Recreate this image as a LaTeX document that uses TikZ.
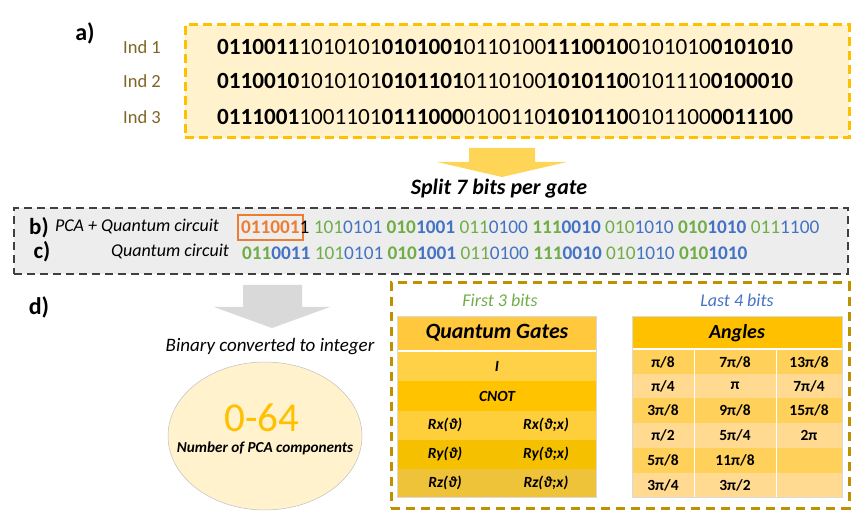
\documentclass[tikz,border=0pt]{standalone}
\usepackage{fontspec}
\setmainfont{Carlito}
\usetikzlibrary{shapes.geometric}
\definecolor{cyel}{HTML}{FFC000}
\definecolor{cfill}{HTML}{FFF2CC}
\definecolor{cind}{HTML}{7F6526}
\definecolor{cgreen}{HTML}{70AD47}
\definecolor{cblue}{HTML}{4472C4}
\definecolor{corange}{HTML}{ED7D31}
\definecolor{cgrayfill}{HTML}{EDEDED}
\definecolor{cdash}{HTML}{404040}
\definecolor{cgold}{HTML}{BF9000}
\definecolor{carrowy}{HTML}{FFD557}
\definecolor{carrowg}{HTML}{D9D9D9}
\definecolor{gh}{HTML}{FFC83D}
\definecolor{g1}{HTML}{FFD147}
\definecolor{g2}{HTML}{FFC300}
\definecolor{g3}{HTML}{FFCE3B}
\definecolor{g4}{HTML}{F5C000}
\definecolor{g5}{HTML}{EEC239}
\definecolor{ah}{HTML}{FFC000}
\definecolor{aodd}{HTML}{FFD05A}
\definecolor{aeven}{HTML}{FFDA90}
\newcommand{\fsz}[1]{\fontsize{#1}{#1}\selectfont}
\newcommand{\gbits}[2]{\textcolor{cgreen}{#1}\textcolor{cblue}{#2}}
\begin{document}
\begin{tikzpicture}[x=1pt,y=-1pt,
  every node/.style={inner sep=0pt,outer sep=0pt},
  lbl/.style={font=\fsz{24}\bfseries},
  indlbl/.style={font=\fsz{18.5},text=cind},
  bitsa/.style={font=\fsz{23.2},anchor=west},
  bitsb/.style={font=\fsz{19.3},anchor=west},
  ital/.style={font=\fsz{18}\itshape},
  cellg/.style={font=\fsz{15.5}\bfseries\itshape},
  cella/.style={font=\fsz{15.5}\bfseries},
]
\useasboundingbox (0,0) rectangle (852,513);

% ---- a) ----
\node[lbl] (la) at (85,33) {a)};
\node[draw=cyel,fill=cfill,line width=3pt,dash pattern=on 9pt off 5pt,
  minimum width=664pt,minimum height=113pt,anchor=north west] (boxa) at (185,25) {};
\node[indlbl] (i1) at (142,47) {Ind 1};
\node[indlbl] (i2) at (142,81) {Ind 2};
\node[indlbl] (i3) at (142,117) {Ind 3};
\node[bitsa] (r1) at (217,47) {\textbf{0110011}1010101\textbf{0101001}0110100\textbf{1110010}0101010\textbf{0101010}};
\node[bitsa] (r2) at (217,81) {\textbf{0110010}1010101\textbf{0101101}0110100\textbf{1010110}0101110\textbf{0100010}};
\node[bitsa] (r3) at (217,117) {\textbf{0111001}1001101\textbf{0111000}0100110\textbf{1010110}0101100\textbf{0011100}};

% yellow arrow
\fill[carrowy] (469,148) -- (535,148) -- (535,162) -- (567,162) -- (502,177) -- (437,162) -- (469,162) -- cycle;
\node[font=\fsz{22}\bfseries\itshape] (split) at (499,189) {Split 7 bits per gate};

% ---- b) c) ----
\node[draw=cdash,fill=cgrayfill,line width=2.5pt,dash pattern=on 8pt off 5pt,
  minimum width=834pt,minimum height=66pt,anchor=north west] (boxb) at (14,208) {};
\node[font=\fsz{23}\bfseries] (lb) at (39,228) {b)};
\node[ital,anchor=west] (tb) at (55,227) {PCA + Quantum circuit};
\node[font=\fsz{23}\bfseries] (lc) at (42,252) {c)};
\node[ital,anchor=east] (tc) at (229,252) {Quantum circuit};

\node[bitsb,draw=corange,line width=2pt,text=corange,inner xsep=3pt,inner ysep=3.5pt,
  minimum height=25pt,anchor=west] (b0) at (238,227.5) {\textbf{011001}};
\node[bitsb] (b1) at ([xshift=-3pt]b0.east) {1 \gbits{101}{0101} \textbf{\gbits{010}{1001}} \gbits{011}{0100} \textbf{\gbits{111}{0010}} \gbits{010}{1010} \textbf{\gbits{010}{1010}} \gbits{011}{1100}};
\node[bitsb] (c1) at (242,253) {\textbf{\gbits{011}{0011}} \gbits{101}{0101} \textbf{\gbits{010}{1001}} \gbits{011}{0100} \textbf{\gbits{111}{0010}} \gbits{010}{1010} \textbf{\gbits{010}{1010}}};

% ---- d) ----
\node[lbl] (ld) at (39,307) {d)};
\fill[carrowg] (243,285) -- (302,285) -- (302,307) -- (330,307) -- (272,328) -- (214,307) -- (243,307) -- cycle;
\node[font=\fsz{19}\itshape] (bin) at (270,347) {Binary converted to integer};
\node[ellipse,draw=black!25,line width=0.5pt,fill=cfill,minimum width=194pt,minimum height=148pt] (ell) at (265,436) {};
\node[font=\fsz{41},text=cyel] (num) at (262,418) {0-64};
\node[font=\fsz{15.2}\bfseries\itshape] (npca) at (265,448) {Number of PCA components};

\node[draw=cgold,line width=3pt,dash pattern=on 9pt off 6pt,
  minimum width=458pt,minimum height=225pt,anchor=north west] (boxd) at (391,283) {};

% gates table
\node[font=\fsz{18}\itshape,text=cgreen] (first) at (500,300) {First 3 bits};
\fill[gh] (397,316) rectangle (596,350);
\fill[g1] (397,352) rectangle (596,381);
\fill[g2] (397,381) rectangle (596,411);
\fill[g3] (397,411) rectangle (596,440);
\fill[g4] (397,440) rectangle (596,469);
\fill[g5] (397,469) rectangle (596,497);
\draw[black!15,line width=0.5pt] (397,316) rectangle (596,497);
\node[font=\fsz{21.8}\bfseries\itshape] (qg) at (497,333) {Quantum Gates};
\node[cellg] (gI) at (497,366) {I};
\node[cellg] (gC) at (497,396) {CNOT};
\node[cellg] (gx1) at (445,425) {Rx(ϑ)};
\node[cellg] (gx2) at (546,425) {Rx(ϑ;x)};
\node[cellg] (gy1) at (445,454) {Ry(ϑ)};
\node[cellg] (gy2) at (546,454) {Ry(ϑ;x)};
\node[cellg] (gz1) at (445,483) {Rz(ϑ)};
\node[cellg] (gz2) at (546,483) {Rz(ϑ;x)};

% angles table
\node[font=\fsz{18}\itshape,text=cblue] (last) at (737,300) {Last 4 bits};
\fill[ah] (632,316) rectangle (842,348);
\fill[aodd]  (632,350) rectangle (842,374);
\fill[aeven] (632,374) rectangle (842,398);
\fill[aodd]  (632,398) rectangle (842,423);
\fill[aeven] (632,423) rectangle (842,448);
\fill[aodd]  (632,448) rectangle (842,473);
\fill[aeven] (632,473) rectangle (842,497);
\draw[white,line width=0.6pt] (694,350) -- (694,497) (776,350) -- (776,497);
\draw[black!15,line width=0.5pt] (632,316) rectangle (842,497);
\node[font=\fsz{20}\bfseries\itshape] (ang) at (737,333) {Angles};
\node[cella] (a11) at (663,362) {π/8};
\node[cella] (a12) at (735,362) {7π/8};
\node[cella] (a13) at (809,362) {13π/8};
\node[cella] (a21) at (663,386) {π/4};
\node[cella] (a22) at (735,386) {π};
\node[cella] (a23) at (809,386) {7π/4};
\node[cella] (a31) at (663,410.5) {3π/8};
\node[cella] (a32) at (735,410.5) {9π/8};
\node[cella] (a33) at (809,410.5) {15π/8};
\node[cella] (a41) at (663,435.5) {π/2};
\node[cella] (a42) at (735,435.5) {5π/4};
\node[cella] (a43) at (809,435.5) {2π};
\node[cella] (a51) at (663,460.5) {5π/8};
\node[cella] (a52) at (735,460.5) {11π/8};
\node[cella] (a61) at (663,485) {3π/4};
\node[cella] (a62) at (735,485) {3π/2};
\end{tikzpicture}
\end{document}
